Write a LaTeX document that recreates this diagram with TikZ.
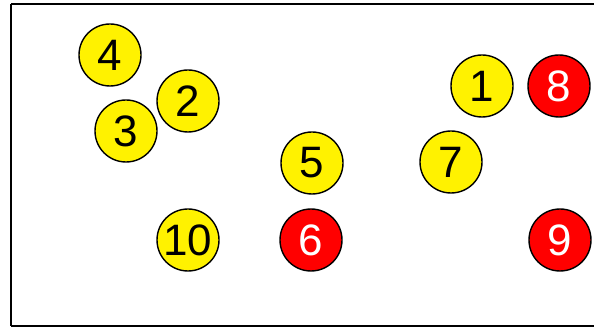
\documentclass[tikz,border=0pt]{standalone}
\usepackage{fontspec}
\setmainfont{Liberation Sans}
\usetikzlibrary{shapes}

\begin{document}
\begin{tikzpicture}[x=1pt,y=-1pt,
  ball/.style={shape=circle,draw=black,line width=1.4pt,fill=yellow,minimum size=62pt,inner sep=0pt,
    font=\fontsize{44}{44}\selectfont},
  redball/.style={ball,fill=red,text=white}]
\useasboundingbox(0,0)rectangle(594,328);
\draw[line width=2.6pt](11,4)--(600,4)(11,4)--(11,326)(11,326)--(600,326);
\node[ball](n4)at(110,55){4};
\node[ball](n2)at(188,101){2};
\node[ball](n3)at(126,131){3};
\node[ball](n1)at(482,86){1};
\node[redball](n8)at(559,86){8};
\node[ball](n5)at(312,163){5};
\node[ball](n7)at(451,162){7};
\node[ball](n10)at(188,240){10};
\node[redball](n6)at(311,240){6};
\node[redball](n9)at(560,240){9};
\end{tikzpicture}
\end{document}
